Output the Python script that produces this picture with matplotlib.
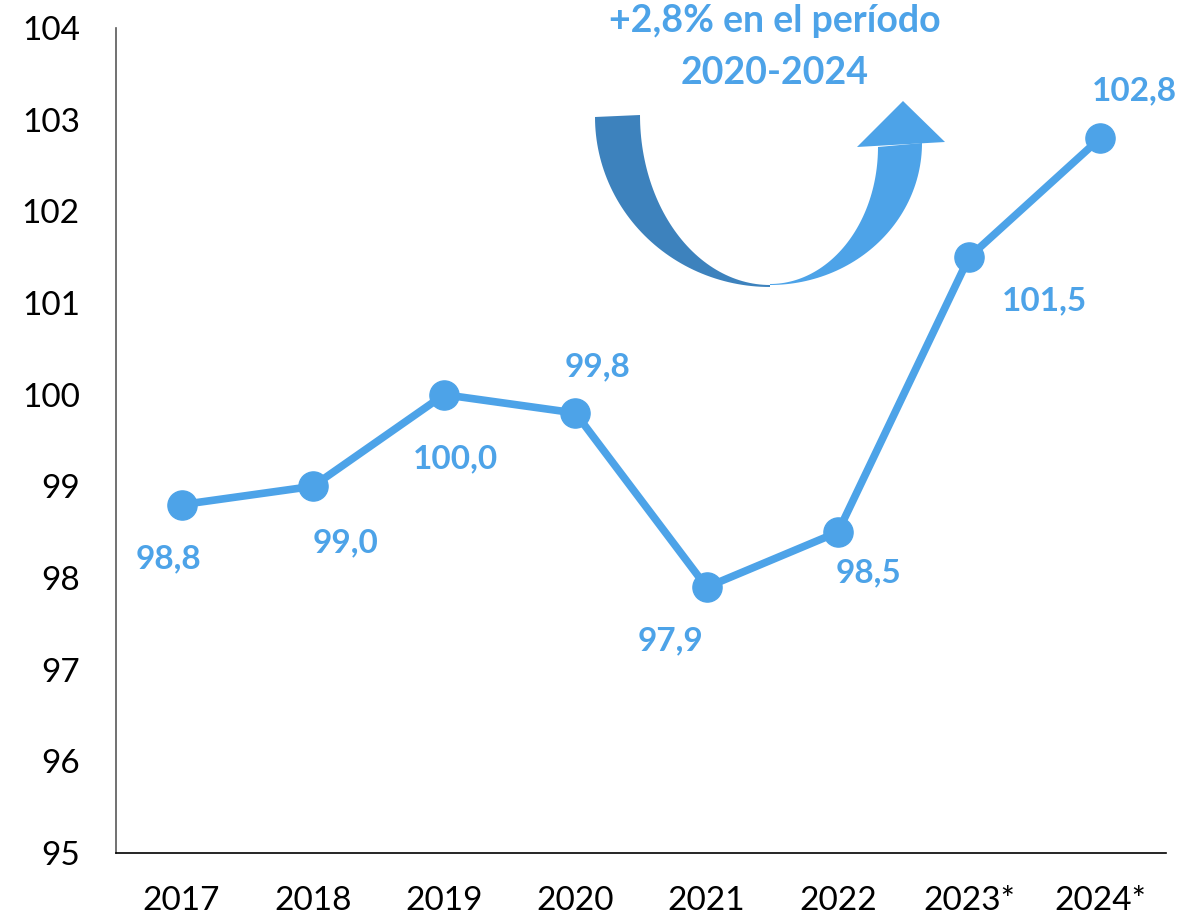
import numpy as np
import matplotlib
matplotlib.use('Agg')
import matplotlib.pyplot as plt
from matplotlib.patches import Polygon

years = ['2017', '2018', '2019', '2020', '2021', '2022', '2023*', '2024*']
values = [98.8, 99.0, 100.0, 99.8, 97.9, 98.5, 101.5, 102.8]
# label offsets from each point, in pixels (dx, dy)
label_offsets = [(-13, -54), (33, -56), (11, -64), (22, 46), (-36, -54), (31, -41), (75, -44), (34, 47)]

blue = '#4DA3E8'
dark_blue = '#3D82BD'

plt.rcParams['font.family'] = ['Lato', 'DejaVu Sans']

W, H = 1198, 919
fig = plt.figure(figsize=(W / 100, H / 100), dpi=100)
ax = fig.add_axes([116 / W, (H - 853) / H, 1050 / W, (853 - 28) / H])

x = np.arange(len(years))
ax.plot(x, values, color=blue, linewidth=5.5, marker='o', markersize=21,
        markerfacecolor=blue, markeredgecolor=blue, solid_capstyle='round', zorder=3)

for xi, v, (dx, dy) in zip(x, values, label_offsets):
    ax.annotate(f'{v:.1f}'.replace('.', ','), (xi, v), xytext=(dx, dy),
                textcoords='offset pixels', ha='center', va='center',
                fontsize=24, fontweight='bold', color=blue)

ax.set_xlim(-0.5, len(years) - 0.5)
ax.set_ylim(95, 104)
ax.set_yticks(range(95, 105))
ax.set_xticks(x)
ax.set_xticklabels(years)
ax.tick_params(axis='both', length=0, labelsize=24, colors='black')
ax.tick_params(axis='y', pad=26)
ax.tick_params(axis='x', pad=24)
for side in ['top', 'right']:
    ax.spines[side].set_visible(False)
ax.spines['left'].set_color('#595959')
ax.spines['bottom'].set_color('black')
ax.spines['left'].set_linewidth(1.2)
ax.spines['bottom'].set_linewidth(1.2)


# curved arrow, built in pixel space and mapped to figure fraction
def to_fig(pts):
    pts = np.asarray(pts, dtype=float)
    return np.column_stack([pts[:, 0] / W, 1 - pts[:, 1] / H])


t = np.linspace(np.pi, 1.5 * np.pi, 60)
outer_l = np.column_stack([770 + 175 * np.cos(t), 117 - 170 * np.sin(t)])
inner_l = np.column_stack([770 + 130 * np.cos(t), 115 - 170 * np.sin(t)])
left_band = np.vstack([outer_l, inner_l[::-1]])

t2 = np.linspace(1.5 * np.pi, 2 * np.pi, 60)
outer_r = np.column_stack([770 + 152 * np.cos(t2), 143 - 142 * np.sin(t2)])
inner_r = np.column_stack([770 + 108 * np.cos(t2), 147 - 137 * np.sin(t2)])
right_band = np.vstack([inner_r, outer_r[::-1]])
head = [(857, 147), (903, 101), (945, 142)]

for pts, c in [(left_band, dark_blue), (right_band, blue), (head, blue)]:
    fig.patches.append(Polygon(to_fig(pts), closed=True, facecolor=c,
                               edgecolor='none', transform=fig.transFigure))

fig.text(775 / W, 1 - 21 / H, '+2,8% en el período', ha='center', va='center',
         fontsize=27, fontweight='bold', color=blue)
fig.text(775 / W, 1 - 73 / H, '2020-2024', ha='center', va='center',
         fontsize=27, fontweight='bold', color=blue)

fig.savefig('out.png', dpi=100)
